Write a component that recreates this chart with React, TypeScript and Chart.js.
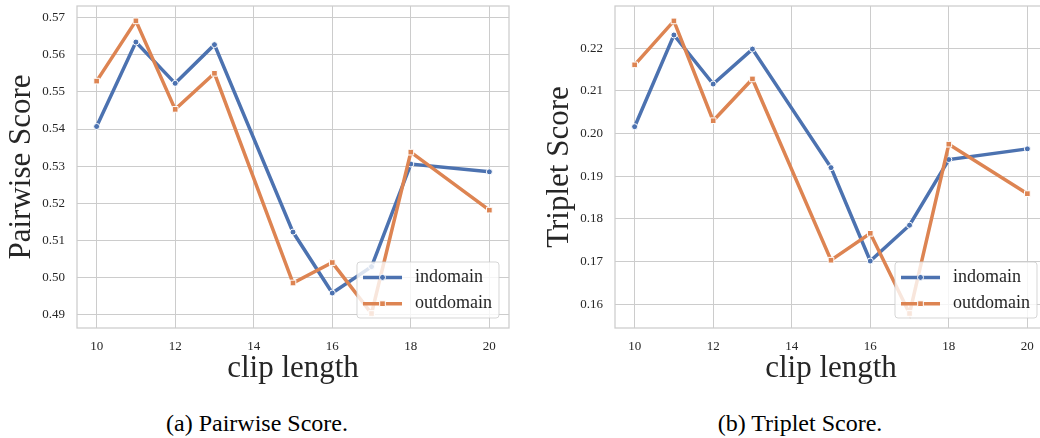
import React, { useEffect, useRef } from 'react';
import { Chart, registerables } from 'chart.js';

Chart.register(...registerables);

// ---------- data ----------
const clipLengths = [10, 11, 12, 13, 15, 16, 17, 18, 20];
const seriesLabels = ['indomain', 'outdomain'];

const pairwiseIndomain = [0.5407, 0.5634, 0.5523, 0.5627, 0.5123, 0.4959, 0.503, 0.5306, 0.5285];
const pairwiseOutdomain = [0.5529, 0.5691, 0.5453, 0.555, 0.4986, 0.5041, 0.4904, 0.5338, 0.5182];

const tripletIndomain = [0.2016, 0.2231, 0.2116, 0.2198, 0.192, 0.1701, 0.1785, 0.1939, 0.1964];
const tripletOutdomain = [0.2161, 0.2264, 0.203, 0.2128, 0.1703, 0.1766, 0.1578, 0.1975, 0.1859];

const xTickValues = [10, 12, 14, 16, 18, 20];
const pairwiseTickValues = [0.49, 0.5, 0.51, 0.52, 0.53, 0.54, 0.55, 0.56, 0.57];
const tripletTickValues = [0.16, 0.17, 0.18, 0.19, 0.2, 0.21, 0.22];

const xRange = [9.5, 20.5];
const pairwiseRange = [0.4865, 0.5731];
const tripletRange = [0.1544, 0.2299];

const xTitle = 'clip length';
const yTitles = ['Pairwise Score', 'Triplet Score'];
const captions = ['(a) Pairwise Score.', '(b) Triplet Score.'];

// ---------- style ----------
const FONT = '"Liberation Serif", "Times New Roman", Times, serif';
const TEXT = '#262626';
const GRID = '#cccccc';
const BLUE = '#4C72B0';
const ORANGE = '#DD8452';
const COLORS = [BLUE, ORANGE];
const POINT_STYLES = ['circle', 'rect'];
const POINT_RADII = [3, 4];

const framePlugin = {
  id: 'frame',
  afterDatasetsDraw(chart: any) {
    const { ctx, chartArea: a } = chart;
    ctx.save();
    ctx.strokeStyle = GRID;
    ctx.lineWidth = 1.25;
    ctx.strokeRect(a.left, a.top, a.right - a.left, a.bottom - a.top);
    ctx.restore();
  },
};

const insideLegendPlugin = {
  id: 'insideLegend',
  afterDatasetsDraw(chart: any) {
    const { ctx, chartArea: a } = chart;
    const ds = chart.data.datasets;
    ctx.save();
    ctx.font = `18px ${FONT}`;
    const textW = Math.max(...ds.map((d: any) => ctx.measureText(d.label).width));
    const padL = 6, lineLen = 39, gap = 13, padR = 7;
    const w = padL + lineLen + gap + textW + padR;
    const h = 56;
    const x = a.right - 10 - w;
    const y = a.bottom - 10 - h;
    ctx.beginPath();
    if ((ctx as any).roundRect) (ctx as any).roundRect(x, y, w, h, 3);
    else ctx.rect(x, y, w, h);
    ctx.fillStyle = 'rgba(255,255,255,0.8)';
    ctx.fill();
    ctx.strokeStyle = 'rgba(204,204,204,0.8)';
    ctx.lineWidth = 1;
    ctx.stroke();
    const rowY = [y + 15.4, y + 41.7];
    ds.forEach((d: any, i: number) => {
      const cy = rowY[i];
      const lx0 = x + padL;
      const lx1 = lx0 + lineLen;
      ctx.strokeStyle = d.borderColor;
      ctx.lineWidth = d.borderWidth;
      ctx.beginPath();
      ctx.moveTo(lx0, cy);
      ctx.lineTo(lx1, cy);
      ctx.stroke();
      const cx = (lx0 + lx1) / 2;
      ctx.fillStyle = d.borderColor;
      ctx.strokeStyle = '#ffffff';
      ctx.lineWidth = 1;
      ctx.beginPath();
      if (d.pointStyle === 'rect') {
        const s = d.pointRadius * Math.SQRT1_2;
        ctx.rect(cx - s, cy - s, 2 * s, 2 * s);
      } else {
        ctx.arc(cx, cy, d.pointRadius, 0, Math.PI * 2);
      }
      ctx.fill();
      ctx.stroke();
      ctx.fillStyle = TEXT;
      ctx.textBaseline = 'middle';
      ctx.textAlign = 'left';
      ctx.fillText(d.label, lx1 + gap, cy);
    });
    ctx.restore();
  },
};

type PanelProps = {
  yTitle: string;
  series: number[][];
  yTicks: number[];
  yRange: number[];
};

function Panel({ yTitle, series, yTicks, yRange }: PanelProps) {
  const ref = useRef<HTMLCanvasElement | null>(null);
  useEffect(() => {
    if (!ref.current) return;
    const chart = new Chart(ref.current, {
      type: 'line',
      data: {
        datasets: series.map((vals, i) => ({
          label: seriesLabels[i],
          data: clipLengths.map((x, j) => ({ x, y: vals[j] })),
          borderColor: COLORS[i],
          backgroundColor: COLORS[i],
          borderWidth: 3.5,
          tension: 0,
          pointStyle: POINT_STYLES[i] as any,
          pointRadius: POINT_RADII[i],
          pointBackgroundColor: COLORS[i],
          pointBorderColor: '#ffffff',
          pointBorderWidth: 1,
          order: series.length - 1 - i,
        })),
      },
      options: {
        animation: false,
        responsive: true,
        maintainAspectRatio: false,
        events: [],
        layout: { padding: { top: 6, right: 11, bottom: 0, left: 0 } },
        plugins: { legend: { display: false }, tooltip: { enabled: false } },
        scales: {
          x: {
            type: 'linear',
            min: xRange[0],
            max: xRange[1],
            afterBuildTicks: (s: any) => {
              s.ticks = xTickValues.map((v) => ({ value: v }));
            },
            afterFit: (s: any) => {
              s.height = 67;
              s.paddingLeft = 0;
              s.paddingRight = 0;
            },
            grid: { color: GRID, lineWidth: 1, drawTicks: false },
            border: { display: false },
            ticks: {
              font: { family: FONT, size: 13 },
              color: TEXT,
              padding: 11,
              maxRotation: 0,
              callback: (v: any) => String(v),
            },
            title: {
              display: true,
              text: xTitle,
              color: TEXT,
              font: { family: FONT, size: 31, lineHeight: 1 },
              padding: { top: 0, bottom: 10.6 },
            },
          },
          y: {
            type: 'linear',
            min: yRange[0],
            max: yRange[1],
            afterBuildTicks: (s: any) => {
              s.ticks = yTicks.map((v) => ({ value: v }));
            },
            afterFit: (s: any) => {
              s.width = 77;
              s.paddingTop = 0;
              s.paddingBottom = 0;
            },
            grid: { color: GRID, lineWidth: 1, drawTicks: false },
            border: { display: false },
            ticks: {
              font: { family: FONT, size: 13 },
              color: TEXT,
              padding: 12,
              callback: (v: any) => Number(v).toFixed(2),
            },
            title: {
              display: true,
              text: yTitle,
              color: TEXT,
              font: { family: FONT, size: 31, lineHeight: 1 },
              padding: { top: 6, bottom: 0 },
            },
          },
        },
      },
      plugins: [framePlugin, insideLegendPlugin],
    });
    return () => chart.destroy();
  }, []);
  return <canvas ref={ref} />;
}

export default function App() {
  const panelLefts = [0, 538];
  const captionCenters = [257, 800];
  const panels = [
    { series: [pairwiseIndomain, pairwiseOutdomain], yTicks: pairwiseTickValues, yRange: pairwiseRange },
    { series: [tripletIndomain, tripletOutdomain], yTicks: tripletTickValues, yRange: tripletRange },
  ];
  return (
    <div
      style={{
        position: 'fixed',
        left: 0,
        top: 0,
        width: 1040,
        height: 438,
        overflow: 'hidden',
        background: '#ffffff',
      }}
    >
      {panels.map((p, i) => (
        <div key={i} style={{ position: 'absolute', left: panelLefts[i], top: 0, width: 520, height: 395 }}>
          <Panel yTitle={yTitles[i]} series={p.series} yTicks={p.yTicks} yRange={p.yRange} />
        </div>
      ))}
      {captions.map((c, i) => (
        <div
          key={c}
          style={{
            position: 'absolute',
            left: captionCenters[i] - 150,
            width: 300,
            top: 411,
            textAlign: 'center',
            fontFamily: FONT,
            fontSize: 24,
            lineHeight: '24px',
            color: '#000000',
            whiteSpace: 'nowrap',
          }}
        >
          {c}
        </div>
      ))}
    </div>
  );
}
